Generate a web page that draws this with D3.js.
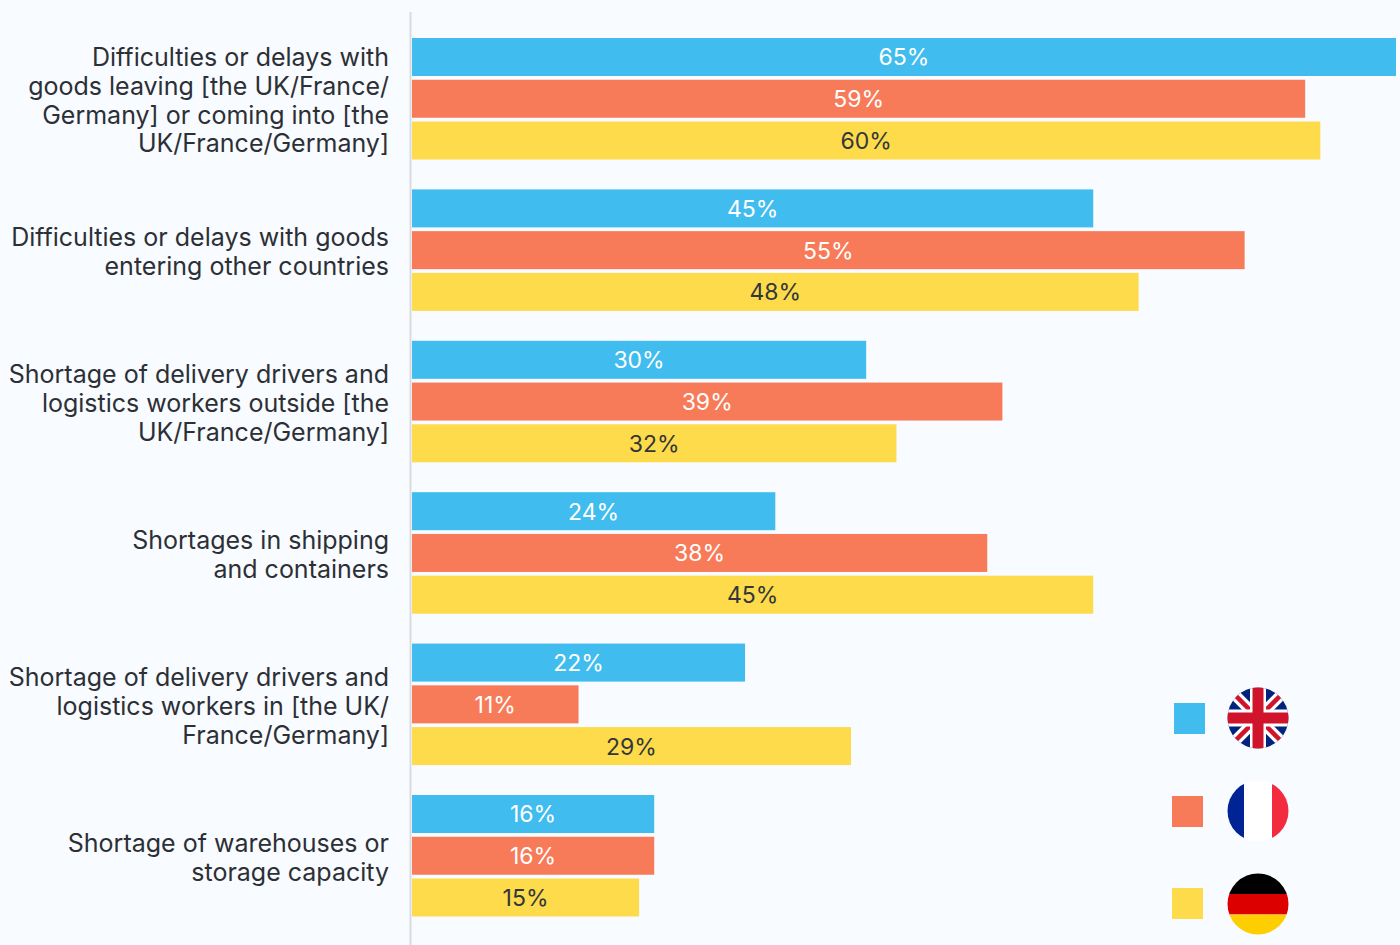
<!DOCTYPE html>
<html>
<head>
<meta charset="utf-8">
<script src="https://cdn.jsdelivr.net/npm/d3@7/dist/d3.min.js"></script>
<style>
html,body{margin:0;padding:0;background:#f8fbff;overflow:hidden}
svg{display:block}
text{font-family:Inter,"Noto Sans",sans-serif}
</style>
</head>
<body>
<svg id="chart" width="1400" height="945"></svg>
<script>
const categories = [
  ["Difficulties or delays with","goods leaving [the UK/France/","Germany] or coming into [the","UK/France/Germany]"],
  ["Difficulties or delays with goods","entering other countries"],
  ["Shortage of delivery drivers and","logistics workers outside [the","UK/France/Germany]"],
  ["Shortages in shipping","and containers"],
  ["Shortage of delivery drivers and","logistics workers in [the UK/","France/Germany]"],
  ["Shortage of warehouses or","storage capacity"]
];
const seriesNames = ["UK","France","Germany"];
const ukValues = [65,45,30,24,22,16];
const franceValues = [59,55,39,38,11,16];
const germanyValues = [60,48,32,45,29,15];
const seriesColors = ["#40bcef","#f77b59","#fddb4a"];
const labelColors = ["#ffffff","#ffffff","#33373b"];

const allValues = [ukValues,franceValues,germanyValues];
const svg = d3.select("#chart");

const x = d3.scaleLinear().domain([0,65]).range([412,1396]);
const y0 = d3.scaleBand().domain(d3.range(categories.length)).range([38,916.5]).paddingInner(0.1975);
const y1 = d3.scaleBand().domain(d3.range(seriesNames.length)).range([0,y0.bandwidth()]).paddingInner(0.09);

// vertical baseline
svg.append("line").attr("x1",410.5).attr("x2",410.5).attr("y1",12).attr("y2",945)
  .attr("stroke","#d9dbde").attr("stroke-width",2);

// grouped bars with centred value labels
const groups = svg.selectAll("g.group").data(categories).join("g")
  .attr("class","group")
  .attr("transform",(d,i)=>`translate(0,${y0(i)})`);

groups.each(function(_,gi){
  const g = d3.select(this);
  const rows = seriesNames.map((s,si)=>({si,v:allValues[si][gi]}));
  g.selectAll("rect").data(rows).join("rect")
    .attr("x",x(0)).attr("y",d=>y1(d.si))
    .attr("width",d=>x(d.v)-x(0)).attr("height",y1.bandwidth())
    .attr("fill",d=>seriesColors[d.si]);
  g.selectAll("text.val").data(rows).join("text")
    .attr("class","val")
    .attr("x",d=>(x(0)+x(d.v))/2)
    .attr("y",d=>y1(d.si)+y1.bandwidth()/2+8.5)
    .attr("text-anchor","middle")
    .attr("font-size",23)
    .attr("fill",d=>labelColors[d.si])
    .text(d=>d.v+"%");
  // multi-line category label, right aligned against the baseline
  const lines = categories[gi];
  const lh = 28.8;
  g.selectAll("text.cat").data(lines).join("text")
    .attr("class","cat")
    .attr("x",389)
    .attr("y",(d,i)=>y0.bandwidth()/2+(i-(lines.length-1)/2)*lh+10.5)
    .attr("text-anchor","end")
    .attr("font-size",25)
    .attr("fill","#2c3035")
    .text(d=>d);
});

// legend: swatch plus round flag
const swatches = [[1174,703],[1172,796],[1172,888]];
svg.selectAll("rect.swatch").data(swatches).join("rect")
  .attr("class","swatch")
  .attr("x",d=>d[0]).attr("y",d=>d[1]).attr("width",31).attr("height",31)
  .attr("fill",(d,i)=>seriesColors[i]);

const defs = svg.append("defs");
defs.append("clipPath").attr("id","flagClip").append("circle").attr("r",30.5);

function flag(cy){
  return svg.append("g").attr("transform",`translate(1258,${cy})`)
    .append("g").attr("clip-path","url(#flagClip)");
}
// UK
const uk = flag(718);
uk.append("rect").attr("x",-31).attr("y",-31).attr("width",62).attr("height",62).attr("fill","#00247d");
[[-31,-31,31,31],[-31,31,31,-31]].forEach(l=>{
  uk.append("line").attr("x1",l[0]).attr("y1",l[1]).attr("x2",l[2]).attr("y2",l[3]).attr("stroke","#fff").attr("stroke-width",11);
  uk.append("line").attr("x1",l[0]).attr("y1",l[1]).attr("x2",l[2]).attr("y2",l[3]).attr("stroke","#cf142b").attr("stroke-width",4.5);
});
uk.append("rect").attr("x",-31).attr("y",-8.5).attr("width",62).attr("height",17).attr("fill","#fff");
uk.append("rect").attr("x",-8).attr("y",-31).attr("width",16).attr("height",62).attr("fill","#fff");
uk.append("rect").attr("x",-31).attr("y",-5.5).attr("width",62).attr("height",11).attr("fill","#cf142b");
uk.append("rect").attr("x",-5.5).attr("y",-31).attr("width",11).attr("height",62).attr("fill","#cf142b");
// France
const fr = flag(811);
fr.append("rect").attr("x",-31).attr("y",-31).attr("width",62).attr("height",62).attr("fill","#fff");
fr.append("rect").attr("x",-31).attr("y",-31).attr("width",17).attr("height",62).attr("fill","#002395");
fr.append("rect").attr("x",14).attr("y",-31).attr("width",17).attr("height",62).attr("fill","#f22c3e");
// Germany
const de = flag(904);
de.append("rect").attr("x",-31).attr("y",-31).attr("width",62).attr("height",21).attr("fill","#000");
de.append("rect").attr("x",-31).attr("y",-10).attr("width",62).attr("height",20.5).attr("fill","#dd0000");
de.append("rect").attr("x",-31).attr("y",10.5).attr("width",62).attr("height",21).attr("fill","#ffce00");
</script>
</body>
</html>
